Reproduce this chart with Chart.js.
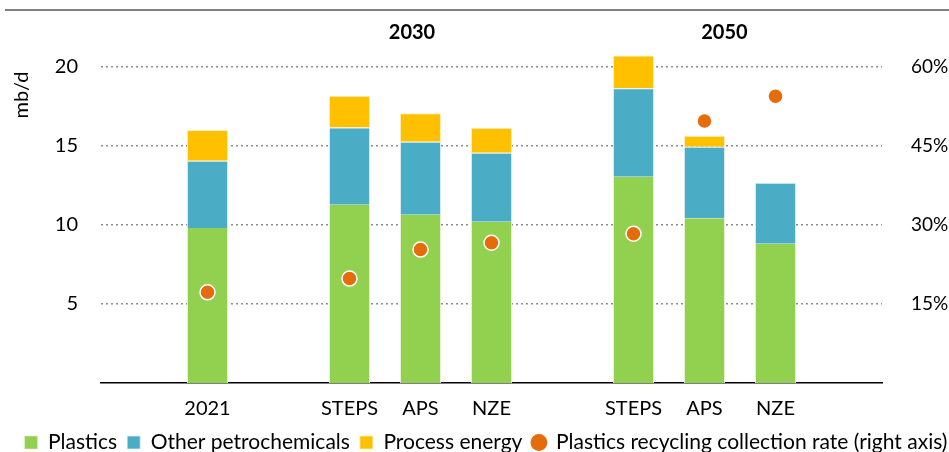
<!DOCTYPE html>
<html>
<head>
<meta charset="utf-8">
<script src="https://cdn.jsdelivr.net/npm/chart.js@4/dist/chart.umd.min.js"></script>
<style>
html,body{margin:0;padding:0;background:#fff;}
#wrap{width:949px;height:452px;position:relative;}
</style>
</head>
<body>
<div id="wrap"><canvas id="c" width="949" height="452"></canvas></div>
<script>
const categories = ['', '2021', '', 'STEPS', 'APS', 'NZE', '', 'STEPS', 'APS', 'NZE', ''];
const groupLabels = [{label: '2030', at: 3.88}, {label: '2050', at: 8.28}];
const plastics      = [null, 9.8, null, 11.27, 10.63, 10.19, null, 13.04, 10.42, 8.8, null];
const otherPetchem  = [null, 4.25, null, 4.89, 4.62, 4.37, null, 5.59, 4.52, 3.86, null];
const processEnergy = [null, 1.95, null, 2.0, 1.8, 1.58, null, 2.07, 0.69, 0, null];
const recyclingRate = [null, 17.2, null, 19.8, 25.3, 26.6, null, 28.3, 49.7, 54.4, null];
const leftTicks = [5, 10, 15, 20];
const rightTicks = [15, 30, 45, 60];

const FONT = 'Lato, "Noto Sans", sans-serif';

const decor = {
  id: 'decor',
  afterDraw(chart) {
    const ctx = chart.ctx;
    const x = chart.scales.x;
    ctx.save();
    ctx.strokeStyle = '#808080';
    ctx.lineWidth = 2;
    ctx.beginPath();
    ctx.moveTo(5, 10);
    ctx.lineTo(949, 10);
    ctx.stroke();
    ctx.fillStyle = '#000';
    ctx.font = 'bold 20px ' + FONT;
    ctx.textAlign = 'center';
    ctx.textBaseline = 'middle';
    groupLabels.forEach(g => {
      ctx.fillText(g.label, x.getPixelForValue(g.at), 33);
    });
    ctx.font = '20px ' + FONT;
    ctx.translate(22, 95);
    ctx.rotate(-Math.PI / 2);
    ctx.fillText('mb/d', 0, 0);
    ctx.restore();
  }
};

new Chart(document.getElementById('c'), {
  type: 'bar',
  data: {
    labels: categories,
    datasets: [
      {label: 'Plastics', data: plastics, backgroundColor: '#92D050', borderColor: '#E8F5D8', borderWidth: {left:1,right:1,top:0,bottom:0}, yAxisID: 'y', stack: 's', order: 1, pointStyle: 'rect'},
      {label: 'Other petrochemicals', data: otherPetchem, backgroundColor: '#4BACC6', borderColor: '#DDEFF4', borderWidth: {left:1,right:1,top:1,bottom:0}, yAxisID: 'y', stack: 's', order: 1, pointStyle: 'rect'},
      {label: 'Process energy', data: processEnergy, backgroundColor: '#FFC000', borderColor: '#FFF0C0', borderWidth: {left:1,right:1,top:1,bottom:0}, yAxisID: 'y', stack: 's', order: 1, pointStyle: 'rect'},
      {label: 'Plastics recycling collection rate (right axis)', type: 'line', data: recyclingRate, yAxisID: 'y1', showLine: false,
        pointRadius: 7.5, pointHoverRadius: 7.5, pointBackgroundColor: '#E46C0A', pointBorderColor: '#FFFFFF', pointBorderWidth: 1.5,
        backgroundColor: '#E46C0A', borderColor: '#E46C0A', order: 0, pointStyle: 'circle'}
    ]
  },
  options: {
    responsive: false,
    animation: false,
    devicePixelRatio: 1,
    layout: {padding: {left: -5, right: -28, top: 35, bottom: -11}},
    datasets: {bar: {categoryPercentage: 1, barPercentage: 0.58}},
    plugins: {
      tooltip: {enabled: false},
      legend: {
        position: 'bottom',
        labels: {
          usePointStyle: true,
          boxWidth: 13, boxHeight: 13,
          color: '#000',
          padding: 10,
          font: {family: FONT, size: 21},
          sort: (a, b) => a.datasetIndex - b.datasetIndex
        }
      }
    },
    scales: {
      x: {
        grid: {display: false, tickLength: 12},
        border: {display: true, color: '#000', width: 1.5},
        ticks: {color: '#000', font: {family: FONT, size: 20, lineHeight: 0.9}, padding: 4.5, maxRotation: 0, autoSkip: false}
      },
      y: {
        position: 'left',
        min: 0, max: 22,
        afterBuildTicks: s => { s.ticks = leftTicks.map(v => ({value: v})); },
        afterFit: s => { s.width = 106; },
        grid: {color: '#8C8C8C', lineWidth: 1.5, drawTicks: false},
        border: {display: false, dash: [2, 3]},
        ticks: {color: '#000', font: {family: FONT, size: 20}, padding: 23}
      },
      y1: {
        position: 'right',
        min: 0, max: 66,
        afterBuildTicks: s => { s.ticks = rightTicks.map(v => ({value: v})); },
        afterFit: s => { s.width = 95; },
        grid: {display: false},
        border: {display: false},
        ticks: {color: '#000', font: {family: FONT, size: 19}, padding: 21, callback: v => v + '%'}
      }
    }
  },
  plugins: [decor]
});
</script>
</body>
</html>
